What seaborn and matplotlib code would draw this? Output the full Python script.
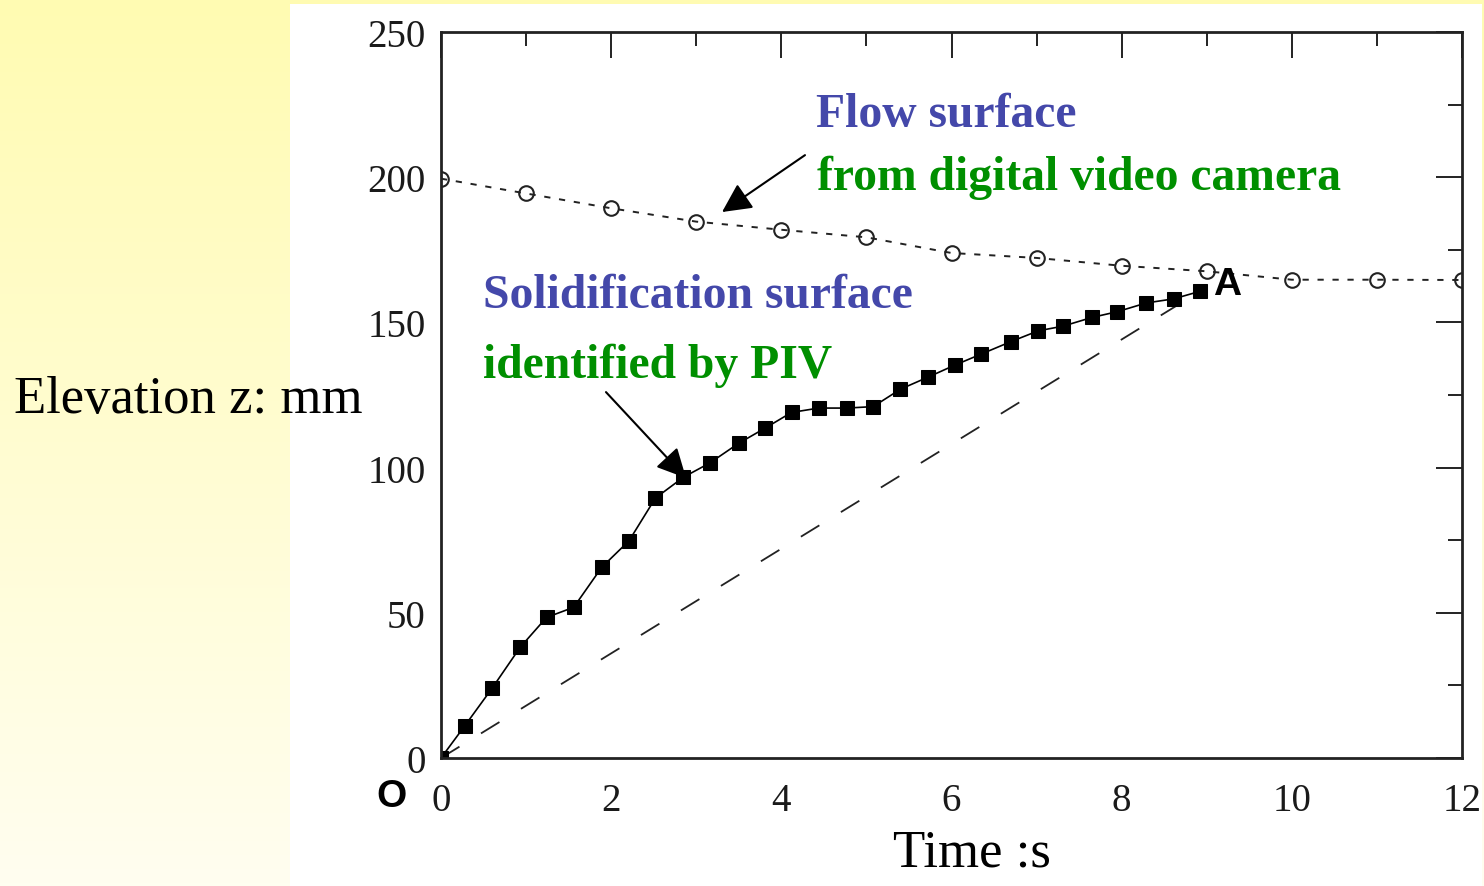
import numpy as np
import matplotlib
matplotlib.use("Agg")
import matplotlib.pyplot as plt
from matplotlib.patches import Rectangle
from matplotlib.ticker import MultipleLocator
import seaborn as sns
import pandas as pd

# Solidification surface identified by PIV (time in s, elevation in mm)
piv_time = [0.0, 0.28, 0.60, 0.93, 1.24, 1.56, 1.89, 2.21, 2.52, 2.85, 3.16,
            3.50, 3.81, 4.12, 4.44, 4.77, 5.08, 5.40, 5.72, 6.04, 6.35, 6.70,
            7.02, 7.31, 7.65, 7.95, 8.29, 8.61, 8.92]
piv_z = [0.0, 11.1, 24.0, 38.1, 48.4, 51.9, 65.7, 74.8, 89.5, 96.7, 101.6,
         108.4, 113.6, 119.0, 120.5, 120.5, 121.0, 127.0, 131.1, 135.3, 139.1,
         143.4, 147.1, 148.7, 151.7, 153.7, 156.7, 158.1, 160.7]

# Flow surface from the digital video camera
flow_time = [0, 1, 2, 3, 4, 5, 6, 7, 8, 9, 10, 11, 12]
flow_z = [199.5, 194.4, 189.3, 184.7, 181.9, 179.3, 173.9, 172.2, 169.5,
          167.6, 164.7, 164.7, 164.6]

# Straight guide from O to A
guide_time = [0.0, 8.92]
guide_z = [0.0, 160.7]

x_major = [0, 2, 4, 6, 8, 10, 12]
y_major = [0, 50, 100, 150, 200, 250]

piv_df = pd.DataFrame({"t": piv_time, "z": piv_z})
flow_df = pd.DataFrame({"t": flow_time, "z": flow_z})
guide_df = pd.DataFrame({"t": guide_time, "z": guide_z})

sns.set_style("white")
plt.rcParams["font.family"] = ["Liberation Serif", "DejaVu Serif"]
plt.rcParams["text.color"] = "black"

W, H = 1484, 887
fig = plt.figure(figsize=(W / 100, H / 100), dpi=100)

# pale yellow backdrop with a white panel behind the graph
bg = fig.add_axes([0, 0, 1, 1], zorder=-10)
top_c = np.array([255, 251, 178]) / 255
bot_c = np.array([255, 254, 240]) / 255
f = np.linspace(0, 1, 256)[:, None]
grad = (top_c[None, :] * (1 - f) + bot_c[None, :] * f)[:, None, :]
bg.imshow(grad, extent=[0, 1, 0, 1], aspect="auto", origin="upper")
bg.add_patch(Rectangle((290 / W, 0), (1482 - 290) / W, (887 - 5) / H,
                       transform=fig.transFigure, facecolor="white",
                       edgecolor="none", zorder=2))
bg.set_xlim(0, 1)
bg.set_ylim(0, 1)
bg.axis("off")

ax = fig.add_axes([441 / W, 1 - 759 / H, (1462 - 441) / W, (759 - 33) / H])
ax.patch.set_visible(False)

sns.lineplot(data=guide_df, x="t", y="z", ax=ax, color="#222222",
             linewidth=1.3, linestyle=(0, (12, 14)), sort=False)
sns.lineplot(data=flow_df, x="t", y="z", ax=ax, color="#222222",
             linewidth=1.4, linestyle=(0, (3.2, 4.5)), marker="o",
             markersize=10.5, markerfacecolor="none",
             markeredgecolor="#222222", markeredgewidth=1.5, sort=False)
sns.lineplot(data=piv_df, x="t", y="z", ax=ax, color="black",
             linewidth=1.2, marker="s", markersize=10,
             markerfacecolor="black", markeredgecolor="black", sort=False)

ax.set_xlim(0, 12)
ax.set_ylim(0, 250)
ax.set_xticks(x_major)
ax.set_yticks(y_major)
ax.xaxis.set_minor_locator(MultipleLocator(1))
ax.yaxis.set_minor_locator(MultipleLocator(25))
ax.tick_params(which="both", direction="in", top=True, right=True,
               color="#222222", width=1.4, labelsize=28,
               labelcolor="#1a1a1a")
ax.tick_params(axis="y", pad=11)
ax.tick_params(axis="x", pad=17)
ax.tick_params(which="major", length=19)
ax.tick_params(which="minor", length=10)
for s in ax.spines.values():
    s.set_linewidth(2.0)
    s.set_color("#222222")
ax.set_xlabel("")
ax.set_ylabel("")

blue = "#4448AA"
green = "#008F00"
tkw = dict(fontsize=34.3, fontweight="bold", ha="left", va="baseline",
           clip_on=False)
ax.text(4.408, 217.7, "Flow surface", color=blue, **tkw)
ax.text(4.419, 195.9, "from digital video camera", color=green, **tkw)
ax.text(0.490, 155.2, "Solidification surface", color=blue, **tkw)
ax.text(0.490, 131.1, "identified by PIV", color=green, **tkw)

ax.text(9.07, 159.8, "A", fontsize=28, fontweight="bold", ha="left",
        va="baseline", color="black",
        family=["Liberation Sans", "DejaVu Sans"], clip_on=False)

akw = dict(arrowstyle="-|>,head_length=0.6,head_width=0.3",
           mutation_scale=30, lw=1.5, color="black", shrinkA=0, shrinkB=0)
ax.annotate("", xy=(3.303, 188.0), xytext=(4.278, 207.6), arrowprops=akw)
ax.annotate("", xy=(2.880, 96.4), xytext=(1.939, 126.0), arrowprops=akw)

fig.text(391 / W, 1 - 797 / H, "O", fontsize=28, fontweight="bold",
         ha="center", va="center", color="black",
         family=["Liberation Sans", "DejaVu Sans"])
fig.text(14 / W, 1 - 413 / H, "Elevation z: mm", fontsize=38,
         ha="left", va="baseline", color="black")
fig.text(893 / W, 1 - 867 / H, "Time :s", fontsize=38,
         ha="left", va="baseline", color="black")

fig.savefig("out.png", dpi=100)
